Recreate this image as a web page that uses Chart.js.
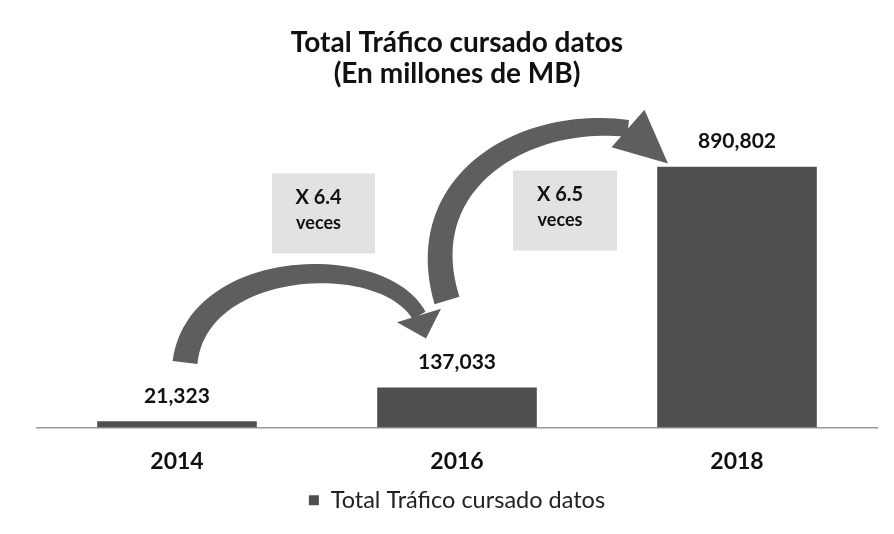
<!DOCTYPE html>
<html>
<head>
<meta charset="utf-8">
<script src="https://cdn.jsdelivr.net/npm/chart.js@4/dist/chart.umd.min.js"></script>
<style>
  html, body { margin: 0; padding: 0; background: #fff; }
  #cont { width: 894px; height: 534px; }
</style>
</head>
<body>
<div id="cont"><canvas id="grafico"></canvas></div>
<script>
// Datos del grafico
var anios = ['2014', '2016', '2018'];
var trafico = [21323, 137033, 890802];
var nombreSerie = 'Total Tráfico cursado datos';
var titulo = ['Total Tráfico cursado datos', '(En millones de MB)'];
var factores = ['X 6.4', 'X 6.5'];
var factorSub = 'veces';

var gris = '#4f4f4f';
var fuente = 'Lato, "Open Sans", sans-serif';

// Flecha curva: cuerpo cubico que se afina + punta triangular
function flecha(ctx, p, w0, w1, tip, hw) {
  var n = 48, izq = [], der = [];
  for (var i = 0; i <= n; i++) {
    var t = i / n, mt = 1 - t;
    var x = mt*mt*mt*p[0][0] + 3*mt*mt*t*p[1][0] + 3*mt*t*t*p[2][0] + t*t*t*p[3][0];
    var y = mt*mt*mt*p[0][1] + 3*mt*mt*t*p[1][1] + 3*mt*t*t*p[2][1] + t*t*t*p[3][1];
    var dx = 3*mt*mt*(p[1][0]-p[0][0]) + 6*mt*t*(p[2][0]-p[1][0]) + 3*t*t*(p[3][0]-p[2][0]);
    var dy = 3*mt*mt*(p[1][1]-p[0][1]) + 6*mt*t*(p[2][1]-p[1][1]) + 3*t*t*(p[3][1]-p[2][1]);
    var l = Math.hypot(dx, dy), nx = -dy / l, ny = dx / l;
    var w = (w0 + (w1 - w0) * t) / 2;
    izq.push([x + nx*w, y + ny*w]);
    der.push([x - nx*w, y - ny*w]);
  }
  ctx.beginPath();
  ctx.moveTo(izq[0][0], izq[0][1]);
  for (var a = 1; a < izq.length; a++) ctx.lineTo(izq[a][0], izq[a][1]);
  for (var b = der.length - 1; b >= 0; b--) ctx.lineTo(der[b][0], der[b][1]);
  ctx.closePath();
  ctx.fill();
  // punta
  var base = p[3];
  var hx = tip[0] - base[0], hy = tip[1] - base[1], hl = Math.hypot(hx, hy);
  var px = -hy / hl, py = hx / hl;
  ctx.beginPath();
  ctx.moveTo(base[0] + px*hw, base[1] + py*hw);
  ctx.lineTo(tip[0], tip[1]);
  ctx.lineTo(base[0] - px*hw, base[1] - py*hw);
  ctx.closePath();
  ctx.fill();
}

function cajaTexto(ctx, x0, y0, x1, y1, linea1, linea2) {
  ctx.fillStyle = '#e2e2e2';
  ctx.fillRect(x0, y0, x1 - x0, y1 - y0);
  var cx = (x0 + x1) / 2 - 5;
  ctx.fillStyle = '#111';
  ctx.textAlign = 'center';
  ctx.textBaseline = 'middle';
  ctx.font = 'bold 20px ' + fuente;
  ctx.fillText(linea1, cx, y0 + 24);
  ctx.font = 'bold 18px ' + fuente;
  ctx.fillText(linea2, cx, y0 + 50);
}

var pluginAnotaciones = {
  id: 'anotaciones',
  afterDatasetsDraw: function(chart) {
    var ctx = chart.ctx;
    var xs = chart.scales.x, ys = chart.scales.y;
    var x0 = xs.getPixelForValue(0), x1 = xs.getPixelForValue(1), x2 = xs.getPixelForValue(2);
    var b = ys.getPixelForValue(0);
    ctx.save();

    // etiquetas de valores
    var meta = chart.getDatasetMeta(0);
    ctx.fillStyle = '#111';
    ctx.font = 'bold 21px ' + fuente;
    ctx.textAlign = 'center';
    ctx.textBaseline = 'middle';
    meta.data.forEach(function(barra, i) {
      ctx.fillText(trafico[i].toLocaleString('en-US'), barra.x, barra.y - 25);
    });

    // cajas con factores
    cajaTexto(ctx, x0 + 95, b - 254, x0 + 198, b - 174, factores[0], factorSub);
    cajaTexto(ctx, x2 - 224, b - 257, x2 - 120, b - 177, factores[1], factorSub);

    // flechas
    ctx.fillStyle = '#5e5e5e';
    flecha(ctx,
      [[x0 + 8, b - 65], [x0 + 20, b - 170], [x1 - 74, b - 177], [x1 - 38, b - 112]],
      25, 15, [x1 - 31, b - 89], 23);
    flecha(ctx,
      [[x1 - 10, b - 127], [x1 - 46, b - 245], [x1 + 66, b - 312], [x2 - 109, b - 299]],
      26, 17, [x2 - 69, b - 264], 25);

    ctx.restore();
  }
};

new Chart(document.getElementById('grafico'), {
  type: 'bar',
  data: {
    labels: anios,
    datasets: [{
      label: nombreSerie,
      data: trafico,
      backgroundColor: gris,
      barPercentage: 0.57,
      categoryPercentage: 1.0
    }]
  },
  options: {
    responsive: true,
    maintainAspectRatio: false,
    animation: false,
    layout: { padding: { left: 37, right: 17, top: 0, bottom: 12 } },
    plugins: {
      title: {
        display: true,
        text: titulo,
        color: '#111',
        font: { family: fuente, size: 28, weight: 'bold', lineHeight: 1.12 },
        padding: { top: 27, bottom: 45 }
      },
      legend: {
        position: 'bottom',
        labels: {
          color: '#222',
          font: { family: fuente, size: 23.5 },
          boxWidth: 10,
          boxHeight: 10,
          padding: 10
        }
      },
      tooltip: { enabled: false }
    },
    scales: {
      x: {
        grid: { display: false, drawTicks: false },
        border: { display: true, color: '#9a9a9a', width: 1.5 },
        ticks: { color: '#111', font: { family: fuente, size: 23, weight: 'bold' }, padding: 20 },
        afterFit: function(scale) { scale.height = 51; }
      },
      y: {
        display: false,
        min: 0,
        max: 1000000
      }
    }
  },
  plugins: [pluginAnotaciones]
});
</script>
</body>
</html>
